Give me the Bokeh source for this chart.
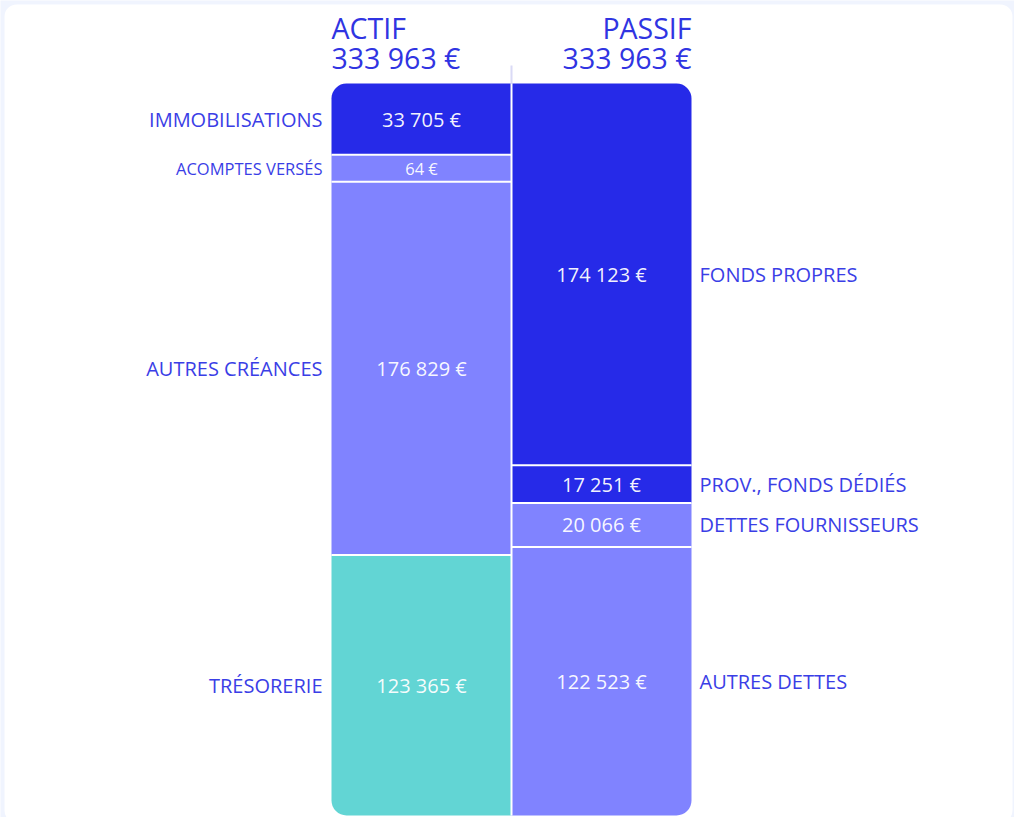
from bokeh.plotting import figure
from bokeh.models import Range1d, ColumnDataSource
from bokeh.core.properties import value
from bokeh.embed import file_html
from bokeh.resources import INLINE

# ---- data ----
actif_labels = ["IMMOBILISATIONS", "ACOMPTES VERSÉS", "AUTRES CRÉANCES", "TRÉSORERIE"]
actif_values = [33705, 64, 176829, 123365]
passif_labels = ["FONDS PROPRES", "PROV., FONDS DÉDIÉS", "DETTES FOURNISSEURS", "AUTRES DETTES"]
passif_values = [174123, 17251, 20066, 122523]
titles = ["ACTIF", "PASSIF"]

DARK = "#262AE8"
LIGHT = "#8083FF"
TEAL = "#62D5D4"
actif_colors = [DARK, LIGHT, LIGHT, TEAL]
passif_colors = [DARK, DARK, LIGHT, LIGHT]
LABEL_COLOR = "#3A3EE6"
TITLE_COLOR = "#3034E2"
FONT = "Open Sans"

total = sum(actif_values)

def fmt(v):
    return f"{v:,}".replace(",", " ") + " €"

def display_sizes(vals, tot, min_share=0.037):
    m = tot * min_share
    small = [v < m for v in vals]
    fixed = m * sum(small)
    rest = sum(v for v, s in zip(vals, small) if not s)
    k = (tot - fixed) / rest
    return [m if s else v * k for v, s in zip(vals, small)]

# ---- geometry (figure pixels) ----
W, H = 1014, 817
BAR_LEFT = 331
COL_W = 180
BAR_TOP = 83
BAR_H = 732
PX = BAR_H / total  # px per unit

def xs(px):
    return (px - BAR_LEFT) / COL_W

def ys(px):
    return (px - BAR_TOP) / PX

p = figure(width=W, height=H, output_backend="svg", toolbar_location=None,
           x_range=Range1d(xs(0), xs(W)),
           y_range=Range1d(ys(H), ys(0)),
           min_border=0)
p.axis.visible = False
p.grid.visible = False
p.outline_line_color = None
p.background_fill_color = "#F0F4FE"
p.border_fill_color = "#F0F4FE"

# white panel
p.quad(left=[xs(4)], right=[xs(1012)], top=[ys(4)], bottom=[ys(822)],
       fill_color="white", line_color=None, border_radius=12)

def column(x0, labels, vals, colors, side):
    sizes = display_sizes(vals, total)
    tops, bots = [], []
    acc = 0
    for s in sizes:
        tops.append(acc)
        acc += s
        bots.append(acc)
    n = len(vals)
    for i in range(n):
        if i == 0:
            r = (15, 0, 0, 0) if side == "left" else (0, 15, 0, 0)
        elif i == n - 1:
            r = (0, 0, 0, 15) if side == "left" else (0, 0, 15, 0)
        else:
            r = 0
        p.quad(left=[x0], right=[x0 + 1], top=[tops[i]], bottom=[bots[i]],
               fill_color=colors[i], line_color=None, border_radius=r)
    # separators
    p.segment(x0=[x0] * (n - 1), x1=[x0 + 1] * (n - 1), y0=bots[:-1], y1=bots[:-1],
              line_color="white", line_width=2)
    mids = [(t + b) / 2 for t, b in zip(tops, bots)]
    sz = ["16.5px" if v < total * 0.01 else "20px" for v in vals]
    vsz = ["16.5px" if v < total * 0.01 else "20px" for v in vals]
    src = ColumnDataSource(dict(x=[x0 + 0.5] * n, y=mids, t=[fmt(v) for v in vals], sz=sz, vsz=vsz,
                                l=labels, lx=[x0 if side == "left" else x0 + 1] * n))
    p.text(x="x", y="y", text="t", source=src, text_font=value(FONT), text_font_size="vsz",
           text_color="white", text_alpha=0.95, text_align="center", text_baseline="middle")
    p.text(x="lx", y="y", text="l", source=src, text_font=value(FONT), text_font_size="sz",
           text_color=LABEL_COLOR, text_align="right" if side == "left" else "left",
           text_baseline="middle", x_offset=-9 if side == "left" else 8)

column(0, actif_labels, actif_values, actif_colors, "left")
column(1, passif_labels, passif_values, passif_colors, "right")

# center divider
p.segment(x0=[1], x1=[1], y0=[0], y1=[total], line_color="white", line_width=2)
p.segment(x0=[1], x1=[1], y0=[ys(65)], y1=[0], line_color="#DADAF6", line_width=2)

# titles
title_src = ColumnDataSource(dict(x=[0, 2], y1=[ys(27)] * 2, y2=[ys(57)] * 2,
                                  t=titles, v=[fmt(sum(actif_values)), fmt(sum(passif_values))],
                                  a=["left", "right"]))
p.text(x="x", y="y1", text="t", source=title_src, text_font=value(FONT), text_font_size="28.5px",
       text_color=TITLE_COLOR, text_align="a", text_baseline="middle")
p.text(x="x", y="y2", text="v", source=title_src, text_font=value(FONT), text_font_size="28.5px",
       text_color=TITLE_COLOR, text_align="a", text_baseline="middle")

open("out.html", "w").write(file_html(p, INLINE))
